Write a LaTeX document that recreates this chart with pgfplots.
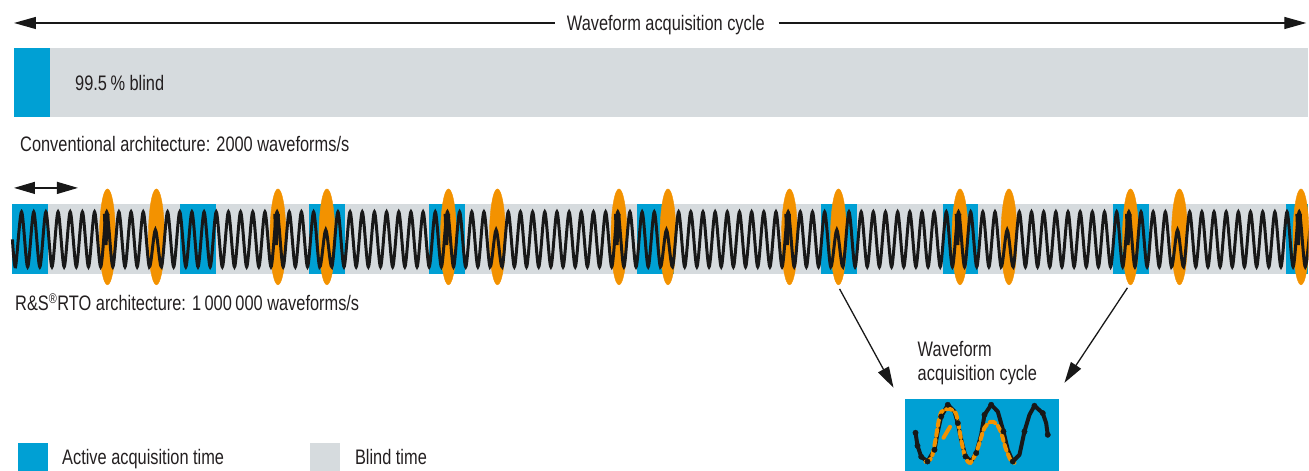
\documentclass[border=0pt]{standalone}
\usepackage{fontspec}
\setmainfont{Liberation Sans}[FakeStretch=0.78]
\usepackage{pgfplots}
\pgfplotsset{compat=1.18}
\usetikzlibrary{arrows.meta}
\definecolor{rsblue}{RGB}{0,160,212}
\definecolor{rsgray}{RGB}{214,219,222}
\definecolor{rsorange}{RGB}{243,146,0}
\definecolor{wave}{RGB}{24,24,24}
\definecolor{txt}{RGB}{35,31,32}
\newcommand\lbl{\fontsize{21bp}{25bp}\selectfont}
\pgfplotsset{frame/.style={width=1309bp,height=471bp,scale only axis,ymin=0,ymax=471,y dir=reverse,hide axis,at={(0,0)},anchor=south west}}
\begin{document}
\begin{tikzpicture}
\begin{axis}[frame,xmin=0,xmax=1309,clip=false]
\path (rel axis cs:0,0) rectangle (rel axis cs:1,1);
% top cycle arrow
\addplot[wave,line width=1.3bp,{Triangle[length=22bp,width=12bp]}-] coordinates {(14,23)(555,23)};
\addplot[wave,line width=1.3bp,-{Triangle[length=22bp,width=12bp]}] coordinates {(779,23)(1307,23)};
\node[anchor=base west,inner sep=0pt,font=\lbl,text=txt] at (axis cs:567,31) {Waveform acquisition cycle};
% conventional bar
\addplot[fill=rsgray,draw=none] coordinates {(14,48)(1309,48)(1309,117)(14,117)} -- cycle;
\addplot[fill=rsblue,draw=none] coordinates {(14,48)(50,48)(50,117)(14,117)} -- cycle;
\node[anchor=base west,inner sep=0pt,font=\lbl,text=txt] at (axis cs:75,91) {99.5\,\% blind};
\node[anchor=base west,inner sep=0pt,font=\lbl,text=txt] at (axis cs:20,152) {Conventional architecture: 2000 waveforms/s};
% small double arrow
\addplot[wave,line width=1.3bp,{Triangle[length=21bp,width=12bp]}-{Triangle[length=21bp,width=12bp]}] coordinates {(14,188)(78,188)};
% RTO strip
\addplot[fill=rsgray,draw=none] coordinates {(12,204)(1309,204)(1309,274)(12,274)} -- cycle;
\addplot[fill=rsblue,draw=none] coordinates {(12,204)(48,204)(48,274)(12,274)} -- cycle;
\addplot[fill=rsblue,draw=none] coordinates {(180,204)(216,204)(216,274)(180,274)} -- cycle;
\addplot[fill=rsblue,draw=none] coordinates {(309,204)(345,204)(345,274)(309,274)} -- cycle;
\addplot[fill=rsblue,draw=none] coordinates {(429,204)(465,204)(465,274)(429,274)} -- cycle;
\addplot[fill=rsblue,draw=none] coordinates {(637,204)(674,204)(674,274)(637,274)} -- cycle;
\addplot[fill=rsblue,draw=none] coordinates {(821,204)(857,204)(857,274)(821,274)} -- cycle;
\addplot[fill=rsblue,draw=none] coordinates {(943,204)(979,204)(979,274)(943,274)} -- cycle;
\addplot[fill=rsblue,draw=none] coordinates {(1114,204)(1150,204)(1150,274)(1114,274)} -- cycle;
\addplot[fill=rsblue,draw=none] coordinates {(1287,204)(1309,204)(1309,274)(1287,274)} -- cycle;
% orange glitch markers
\addplot[only marks,mark=*,mark size=8bp,color=rsorange,mark options={draw=none,fill=rsorange,yscale=6}] coordinates {
(107.5,237)(156.5,237)(278.1,237)(327.1,237)(448.7,237)(497.7,237)(619.3,237)(668.3,237)
(789.9,237)(838.9,237)(960.5,237)(1009.5,237)(1131.1,237)(1180.1,237)(1301.7,237)};
\node[anchor=base west,inner sep=0pt,font=\lbl,text=txt] at (axis cs:15,311) {R\&S\textsuperscript{\fontsize{14bp}{14bp}\selectfont ®}RTO architecture: 1\kern3.5bp000\kern3.5bp000 waveforms/s};
% arrows to inset
\addplot[wave,line width=1.3bp,-{Triangle[length=21bp,width=12bp]}] coordinates {(840,289)(894,388)};
\addplot[wave,line width=1.3bp,-{Triangle[length=21bp,width=12bp]}] coordinates {(1128,288)(1065,383)};
\node[anchor=base west,inner sep=0pt,font=\lbl,text=txt] at (axis cs:918,357) {Waveform};
\node[anchor=base west,inner sep=0pt,font=\lbl,text=txt] at (axis cs:918,380.5) {acquisition cycle};
% inset
\addplot[fill=rsblue,draw=none] coordinates {(905,399)(1060,399)(1060,471)(905,471)} -- cycle;
\addplot[wave,line width=4bp,line join=round,line cap=round] coordinates {
(916,433)(918,446)(921.7,457)(928,461.7)(935,450)(938,433)(941.7,416.7)(948.3,405)(955,411.7)(958.3,423.3)
(961.7,440)(966,456.7)(971.7,461.7)(976.7,453.3)(981.7,435)(985,415)(991.7,405)(998.3,411.7)(1004,431.7)
(1008.3,450)(1013.3,461.7)(1020,455)(1025,431.7)(1030,415)(1035,406)(1043.3,413.3)(1046.7,423.3)(1048.3,435)};
\addplot[rsorange,line width=4bp,smooth,line cap=round,dash pattern=on 6bp off 4bp] coordinates {
(926,462)(932,458)(936,440)(939,422)(942,412)(949,409)(956,413)(959,425)(962,442)(966,458)(971,463)
(977,452)(981,440)(985,428)(991,422)(997,424)(1002,434)(1006,448)(1011,460)(1015,463)};
\addplot[rsorange,line width=4bp,line cap=round] coordinates {(944,438)(950.5,427)};
\addplot[only marks,mark=*,mark size=2.7bp,color=wave,mark options={draw=none,fill=wave}] coordinates {
(916,433)(918,446)(921.7,457)(928,461.7)(935,450)(941.7,416.7)(948.3,405)(958.3,423.3)
(966,456.7)(976.7,453.3)(985,415)(991.7,405)(1004,431.7)
(1013.3,461.7)(1025,431.7)(1035,406)(1043.3,413.3)(1048.3,435)};
% legend
\addplot[fill=rsblue,draw=none] coordinates {(18,443)(48,443)(48,471)(18,471)} -- cycle;
\node[anchor=base west,inner sep=0pt,font=\lbl,text=txt] at (axis cs:62,465) {Active acquisition time};
\addplot[fill=rsgray,draw=none] coordinates {(310,443)(340,443)(340,471)(310,471)} -- cycle;
\node[anchor=base west,inner sep=0pt,font=\lbl,text=txt] at (axis cs:355,465) {Blind time};
\end{axis}
% waveform: x = half-period index
\begin{axis}[frame,xmin=-1.5443,xmax=213.50,clip=true]
\addplot[wave,line width=3bp,smooth] coordinates {
(0.5,239.5)
(1,267)(2,212)(3,267)(4,212)(5,267)(6,212)(7,267)(8,212)(9,267)(10,212)
(11,267)(12,212)(13,267)(14,212)(15,267)(16,212)(17,267)(18,212)(19,267)(20,212)
(21,267)(22,212)(23,267)(24,230)(25,267)(26,212)(27,267)(28,212)(29,267)(30,212)
(31,267)(32,212)(33,267)(34,212)(35,267)(36,212)(37,267)(38,212)(39,267)(40,212)
(41,267)(42,212)(43,267)(44,212)(45,267)(46,212)(47,267)(48,212)(49,267)(50,212)
(51,267)(52,230)(53,267)(54,212)(55,267)(56,212)(57,267)(58,212)(59,267)(60,212)
(61,267)(62,212)(63,267)(64,212)(65,267)(66,212)(67,267)(68,212)(69,267)(70,212)
(71,267)(72,212)(73,267)(74,212)(75,267)(76,212)(77,267)(78,212)(79,267)(80,230)
(81,267)(82,212)(83,267)(84,212)(85,267)(86,212)(87,267)(88,212)(89,267)(90,212)
(91,267)(92,212)(93,267)(94,212)(95,267)(96,212)(97,267)(98,212)(99,267)(100,212)
(101,267)(102,212)(103,267)(104,212)(105,267)(106,212)(107,267)(108,230)(109,267)(110,212)
(111,267)(112,212)(113,267)(114,212)(115,267)(116,212)(117,267)(118,212)(119,267)(120,212)
(121,267)(122,212)(123,267)(124,212)(125,267)(126,212)(127,267)(128,212)(129,267)(130,212)
(131,267)(132,212)(133,267)(134,212)(135,267)(136,230)(137,267)(138,212)(139,267)(140,212)
(141,267)(142,212)(143,267)(144,212)(145,267)(146,212)(147,267)(148,212)(149,267)(150,212)
(151,267)(152,212)(153,267)(154,212)(155,267)(156,212)(157,267)(158,212)(159,267)(160,212)
(161,267)(162,212)(163,267)(164,230)(165,267)(166,212)(167,267)(168,212)(169,267)(170,212)
(171,267)(172,212)(173,267)(174,212)(175,267)(176,212)(177,267)(178,212)(179,267)(180,212)
(181,267)(182,212)(183,267)(184,212)(185,267)(186,212)(187,267)(188,212)(189,267)(190,212)
(191,267)(192,230)(193,267)(194,212)(195,267)(196,212)(197,267)(198,212)(199,267)(200,212)
(201,267)(202,212)(203,267)(204,212)(205,267)(206,212)(207,267)(208,212)(209,267)(210,212)
(211,267)(212,212)(213,267)(214,212)};
% glitches
\addplot[wave,line width=2.6bp] coordinates {(15.59,214)(15.79,244)(15.92,244)(16.25,214)};
\addplot[wave,line width=2.6bp] coordinates {(43.59,214)(43.79,244)(43.92,244)(44.25,214)};
\addplot[wave,line width=2.6bp] coordinates {(71.59,214)(71.79,244)(71.92,244)(72.25,214)};
\addplot[wave,line width=2.6bp] coordinates {(99.59,214)(99.79,244)(99.92,244)(100.25,214)};
\addplot[wave,line width=2.6bp] coordinates {(127.59,214)(127.79,244)(127.92,244)(128.25,214)};
\addplot[wave,line width=2.6bp] coordinates {(155.59,214)(155.79,244)(155.92,244)(156.25,214)};
\addplot[wave,line width=2.6bp] coordinates {(183.59,214)(183.79,244)(183.92,244)(184.25,214)};
\addplot[wave,line width=2.6bp] coordinates {(211.59,214)(211.79,244)(211.92,244)(212.25,214)};
\end{axis}
\end{tikzpicture}
\end{document}
